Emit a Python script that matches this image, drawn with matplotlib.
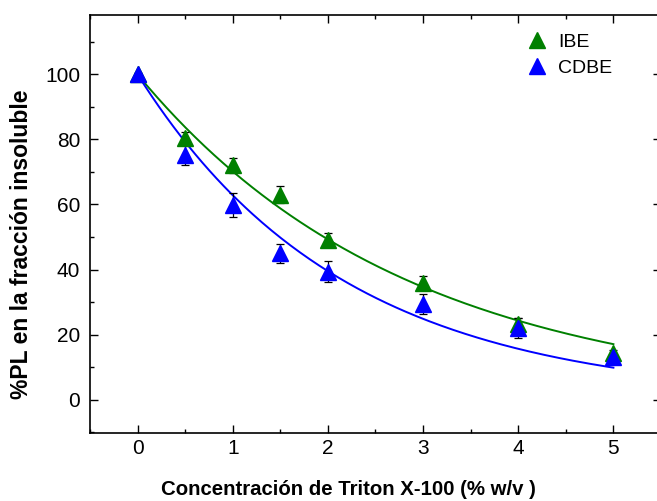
import numpy as np
import matplotlib
matplotlib.use("Agg")
import matplotlib.pyplot as plt
from matplotlib.ticker import MultipleLocator

plt.rcParams['font.family'] = ['Liberation Sans', 'DejaVu Sans']

conc = [0, 0.5, 1, 1.5, 2, 3, 4, 5]
ibe = [100, 80.5, 72, 63, 49, 36, 23.3, 14.3]
ibe_err = [0.5, 1.8, 2.3, 2.6, 2.2, 2.0, 1.8, 1.0]
cdbe = [100, 75.2, 59.8, 45, 39.3, 29.4, 22, 13]
cdbe_err = [0.5, 3.0, 3.8, 3.0, 3.2, 3.0, 3.0, 1.0]

# exponential fit parameters (A * exp(-k x))
ibe_fit = (100.0, 0.354)
cdbe_fit = (100.0, 0.4645)

fig = plt.figure(figsize=(6.57, 5.01), dpi=100)
ax = fig.add_axes([90/657, (501-433)/501, 571/657, 418/501])

xf = np.linspace(conc[0], conc[-1], 200)
ax.plot(xf, ibe_fit[0]*np.exp(-ibe_fit[1]*xf), color='#008000', lw=1.4, zorder=2)
ax.plot(xf, cdbe_fit[0]*np.exp(-cdbe_fit[1]*xf), color='#0000ff', lw=1.4, zorder=2)

ax.errorbar(conc, ibe, yerr=ibe_err, fmt='none', ecolor='black', elinewidth=0.9, capsize=3, capthick=0.9, zorder=3)
ax.errorbar(conc, cdbe, yerr=cdbe_err, fmt='none', ecolor='black', elinewidth=0.9, capsize=3, capthick=0.9, zorder=3)
ax.plot(conc, ibe, '^', color='#008000', ms=11, mec='#008000', label='IBE', zorder=4)
ax.plot(conc, cdbe, '^', color='#0000ff', ms=11, mec='#0000ff', label='CDBE', zorder=5)

ax.set_xlim(-0.5, 5.5)
ax.set_ylim(-10.3, 118.3)
ax.xaxis.set_major_locator(MultipleLocator(1))
ax.xaxis.set_minor_locator(MultipleLocator(0.5))
ax.yaxis.set_major_locator(MultipleLocator(20))
ax.yaxis.set_minor_locator(MultipleLocator(10))
ax.set_yticks([0, 20, 40, 60, 80, 100])
ax.tick_params(which='both', direction='in', top=True, right=True, labelsize=15, width=1.0)
ax.tick_params(which='major', length=6)
ax.tick_params(which='minor', length=3)
ax.tick_params(axis='x', pad=4)
ax.tick_params(axis='y', pad=7)
for s in ax.spines.values():
    s.set_linewidth(1.2)

ax.set_xlabel('Concentración de Triton X-100 (% w/v )', fontsize=14.7, fontweight='bold')
ax.set_ylabel('%PL en la fracción insoluble', fontsize=16.5, fontweight='bold')
ax.xaxis.set_label_coords(0.452, -0.112)
ax.yaxis.set_label_coords(-0.10, 0.452)

ax.legend(loc='upper left', bbox_to_anchor=(0.748, 0.975), frameon=False, fontsize=14,
          handletextpad=0.5, borderaxespad=0, labelspacing=0.45, handlelength=1.2)

fig.savefig('out.png', dpi=100)
